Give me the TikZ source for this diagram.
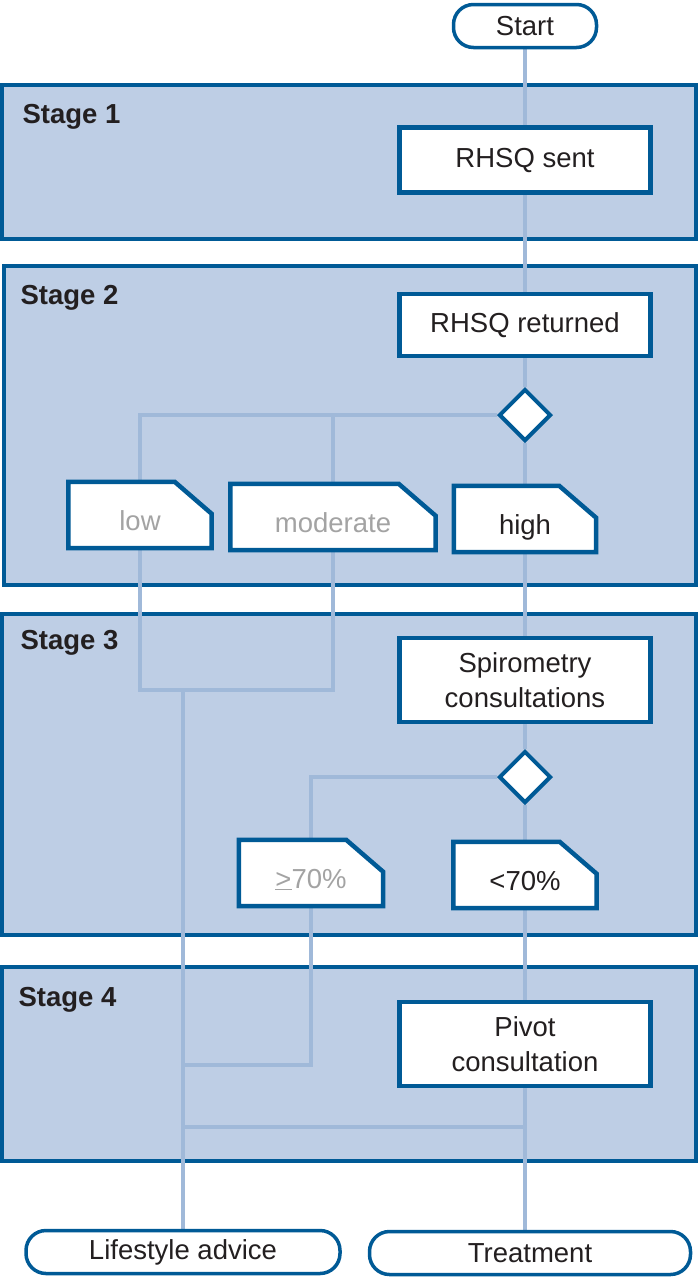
\documentclass[tikz,border=0pt]{standalone}
\usepackage{fontspec}
\setmainfont{Liberation Sans}
\usetikzlibrary{shapes.geometric}

\definecolor{stagefill}{HTML}{BECEE5}
\definecolor{stageline}{HTML}{005A96}
\definecolor{flowline}{HTML}{A0B9D9}
\definecolor{dimtext}{HTML}{A3A3A3}
\definecolor{inktext}{HTML}{231F20}

\pgfdeclarelayer{stages}
\pgfdeclarelayer{flows}
\pgfdeclarelayer{tags}
\pgfsetlayers{stages,flows,tags,main}

\tikzset{
    stagebox/.style={draw=stageline, line width=4.5pt, fill=stagefill},
    stagename/.style={anchor=west, font=\fontsize{27.5}{33}\selectfont\bfseries},
    stepbox/.style={rectangle, draw=stageline, line width=4.5pt, fill=white, minimum width=251pt, align=center, inner sep=0pt},
    endbox/.style={rectangle, rounded corners=20pt, draw=stageline, line width=3.5pt, fill=white, minimum height=43pt, inner sep=0pt},
    decision/.style={diamond, draw=stageline, line width=4pt, fill=white, minimum width=52pt, minimum height=52pt, inner sep=0pt},
    tagbox/.style={rectangle, minimum height=66pt, inner sep=0pt, text height=30pt, text depth=0pt},
    tagline/.style={draw=stageline, line width=4.5pt, fill=white},
    flow/.style={draw=flowline, line width=4pt},
}

\begin{document}
\begin{tikzpicture}[x=1pt, y=-1pt, font=\fontsize{27.5}{35}\selectfont, text=inktext]
    \useasboundingbox (0,0) rectangle (700,1278);

    % Stufen
    \begin{pgfonlayer}{stages}
        \draw[stagebox] (2,85) rectangle (696,239);
        \draw[stagebox] (4,266) rectangle (696,585);
        \draw[stagebox] (2,614) rectangle (696,935);
        \draw[stagebox] (2,967) rectangle (696,1161);
    \end{pgfonlayer}
    \node[stagename] (stage1) at (19,117) {Stage 1};
    \node[stagename] (stage2) at (17,298) {Stage 2};
    \node[stagename] (stage3) at (17,643) {Stage 3};
    \node[stagename] (stage4) at (15,1000) {Stage 4};

    % Hauptstrang
    \node[endbox, minimum width=143pt] (start) at (525,26) {Start};
    \node[stepbox, minimum height=65pt] (sent) at (525,160) {RHSQ sent};
    \node[stepbox, minimum height=62pt] (returned) at (525,325) {RHSQ returned};
    \node[decision] (risk) at (525,415) {};
    \node[tagbox, minimum width=142pt] (high) at (525,519) {high};
    \node[stepbox, minimum height=84pt] (spiro) at (525,680) {Spirometry\\consultations};
    \node[decision] (fev) at (525,777) {};
    \node[tagbox, minimum width=143pt] (below) at (525,875) {<70\%};
    \node[stepbox, minimum height=84pt] (pivot) at (525,1044) {Pivot\\consultation};

    % Nebenzweige
    \node[tagbox, minimum width=143pt, text=dimtext] (low) at (140,515) {low};
    \node[tagbox, minimum width=205pt, text=dimtext] (moderate) at (333,517) {moderate};
    \node[tagbox, minimum width=144pt, text=dimtext] (above) at (311,873) {\underline{>}70\%};

    % Ergebnis
    \node[endbox, minimum width=314pt] (advice) at (183,1252) {Lifestyle advice};
    \node[endbox, minimum width=321pt] (treatment) at (530,1253) {Treatment};

    % Fahnen
    \begin{pgfonlayer}{tags}
        \foreach \t in {low,moderate,high,above,below}
            \draw[tagline] (\t.south west) -- (\t.north west)
                -- ([xshift=-37pt]\t.north east)
                -- ([yshift=-32pt]\t.north east)
                -- (\t.south east) -- cycle;
    \end{pgfonlayer}

    % Verbindungen
    \begin{pgfonlayer}{flows}
        \draw[flow] (start) -- (sent) -- (returned) -- (risk) -- (high)
            -- (spiro) -- (fev) -- (below) -- (pivot) -- (pivot |- treatment);

        \coordinate (lowjoin) at (140,690);
        \coordinate (modjoin) at (333,690);
        \coordinate (advicejoin) at (183,690);
        \draw[flow] (risk) -| (low);
        \draw[flow] (risk) -| (moderate);
        \draw[flow] (low) -- (lowjoin) -- (modjoin) -- (moderate);
        \draw[flow] (advicejoin) -- (advice);

        \coordinate (abovejoin) at (183,1065);
        \draw[flow] (fev) -| (above);
        \draw[flow] (above) |- (abovejoin);

        \coordinate (treatjoin) at (525,1127);
        \draw[flow] (advice |- treatjoin) -- (treatjoin);
    \end{pgfonlayer}
\end{tikzpicture}
\end{document}
